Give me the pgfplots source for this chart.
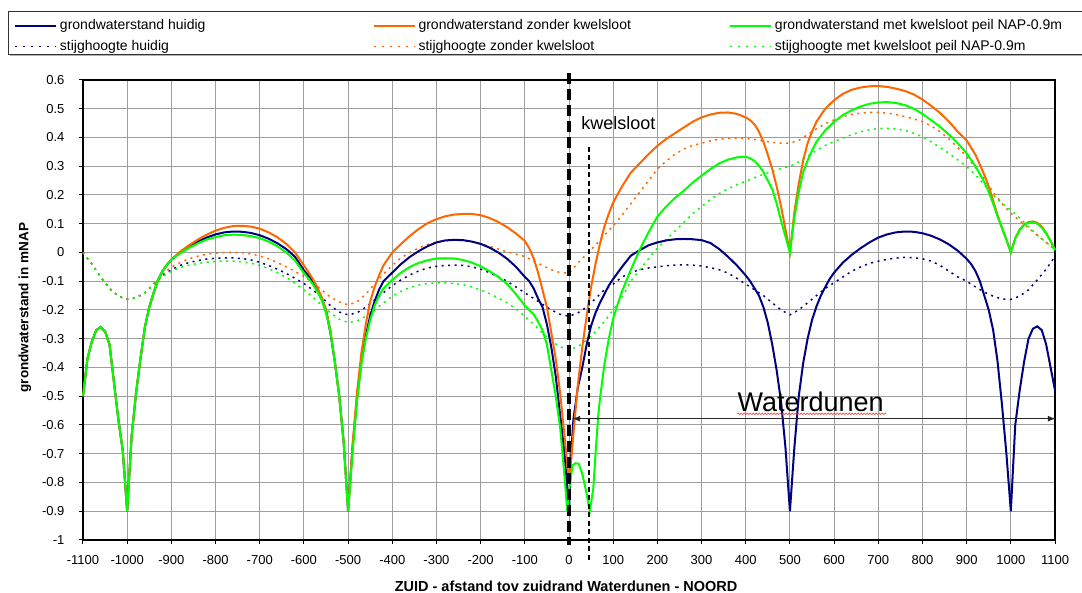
\documentclass[border=0pt]{standalone}
\usepackage{fontspec}
\setmainfont{Liberation Sans}
\usepackage{pgfplots}
\pgfplotsset{compat=1.18}
\usepackage{pgfplotstable}
\usetikzlibrary{arrows.meta,decorations.pathmorphing}

\definecolor{navyc}{HTML}{000080}
\definecolor{orangec}{HTML}{FF6600}
\definecolor{greenc}{HTML}{00FF00}

% grondwaterstand (solid)
\pgfplotstableread{
x y
-1100 -0.50
-1090 -0.37
-1080 -0.31
-1070 -0.27
-1060 -0.26
-1050 -0.275
-1040 -0.32
-1030 -0.45
-1020 -0.58
-1010 -0.69
-1000 -0.90
-990 -0.64
-980 -0.49
-970 -0.37
-960 -0.26
-950 -0.19
-940 -0.14
-930 -0.095
-920 -0.065
-910 -0.043
-900 -0.025
-880 0.0
-860 0.02
-840 0.038
-820 0.052
-800 0.063
-780 0.07
-760 0.073
-740 0.072
-720 0.068
-700 0.06
-680 0.048
-660 0.032
-640 0.012
-620 -0.015
-600 -0.062
-590 -0.08
-580 -0.10
-570 -0.125
-560 -0.158
-550 -0.20
-540 -0.28
-530 -0.38
-520 -0.50
-510 -0.66
-500 -0.90
-490 -0.68
-480 -0.51
-470 -0.38
-460 -0.29
-450 -0.22
-440 -0.17
-430 -0.13
-420 -0.10
-410 -0.085
-400 -0.07
-380 -0.04
-360 -0.015
-340 0.005
-320 0.022
-300 0.035
-280 0.042
-260 0.044
-240 0.043
-220 0.038
-200 0.03
-180 0.017
-160 0.0
-140 -0.022
-120 -0.05
-100 -0.085
-90 -0.10
-80 -0.125
-70 -0.16
-60 -0.19
-50 -0.25
-40 -0.33
-30 -0.43
-20 -0.566
-10 -0.70
0 -0.90
5 -0.70
10 -0.58
20 -0.47
30 -0.40
40 -0.32
50 -0.255
60 -0.21
70 -0.175
80 -0.145
90 -0.115
100 -0.092
120 -0.05
140 -0.011
160 0.008
180 0.025
200 0.035
220 0.042
240 0.046
260 0.047
280 0.046
300 0.043
320 0.033
340 0.012
360 -0.015
380 -0.045
400 -0.08
410 -0.10
420 -0.125
430 -0.15
440 -0.19
450 -0.245
460 -0.32
470 -0.41
480 -0.52
490 -0.68
500 -0.90
510 -0.68
520 -0.50
530 -0.385
540 -0.30
550 -0.235
560 -0.188
570 -0.15
580 -0.12
590 -0.092
600 -0.07
620 -0.035
640 -0.008
660 0.015
680 0.035
700 0.052
720 0.063
740 0.07
760 0.073
780 0.072
800 0.067
820 0.058
840 0.045
860 0.028
880 0.006
900 -0.022
910 -0.04
920 -0.065
930 -0.10
940 -0.15
950 -0.20
960 -0.27
970 -0.38
980 -0.53
990 -0.70
1000 -0.90
1010 -0.60
1020 -0.48
1030 -0.38
1040 -0.30
1050 -0.265
1060 -0.257
1070 -0.27
1080 -0.32
1090 -0.40
1100 -0.48
}\gwHuidig

\pgfplotstableread{
x y
-1100 -0.50
-1090 -0.37
-1080 -0.31
-1070 -0.27
-1060 -0.26
-1050 -0.275
-1040 -0.32
-1030 -0.45
-1020 -0.58
-1010 -0.69
-1000 -0.90
-990 -0.64
-980 -0.49
-970 -0.37
-960 -0.26
-950 -0.19
-940 -0.14
-930 -0.095
-920 -0.065
-910 -0.043
-900 -0.025
-880 0.003
-860 0.025
-840 0.045
-820 0.062
-800 0.076
-780 0.086
-760 0.092
-740 0.093
-720 0.09
-700 0.083
-680 0.07
-660 0.053
-640 0.03
-620 0.0
-600 -0.045
-590 -0.068
-580 -0.092
-570 -0.12
-560 -0.155
-550 -0.20
-540 -0.27
-530 -0.38
-520 -0.50
-510 -0.66
-500 -0.90
-490 -0.67
-480 -0.49
-470 -0.35
-460 -0.25
-450 -0.17
-440 -0.12
-430 -0.08
-420 -0.045
-400 0.0
-380 0.03
-360 0.058
-340 0.082
-320 0.102
-300 0.116
-280 0.126
-260 0.132
-240 0.134
-220 0.134
-200 0.13
-180 0.12
-160 0.106
-140 0.088
-120 0.066
-100 0.04
-90 0.015
-80 -0.02
-70 -0.07
-60 -0.13
-50 -0.19
-40 -0.28
-30 -0.37
-20 -0.49
-10 -0.64
0 -0.80
5 -0.72
10 -0.63
20 -0.46
30 -0.33
40 -0.22
50 -0.12
60 -0.04
70 0.03
80 0.09
90 0.135
100 0.174
120 0.23
140 0.278
160 0.31
180 0.342
200 0.371
220 0.395
240 0.415
260 0.435
280 0.455
300 0.47
320 0.48
340 0.486
360 0.487
380 0.482
400 0.47
410 0.46
420 0.445
430 0.42
440 0.385
450 0.34
460 0.29
470 0.23
480 0.16
490 0.08
500 0.0
510 0.14
520 0.24
530 0.32
540 0.38
550 0.42
560 0.455
580 0.50
600 0.53
620 0.552
640 0.566
660 0.574
680 0.578
700 0.579
720 0.576
740 0.57
760 0.562
780 0.55
800 0.532
820 0.51
840 0.485
860 0.455
880 0.42
900 0.39
920 0.34
940 0.27
950 0.23
960 0.18
970 0.13
980 0.085
990 0.045
1000 0.0
1010 0.05
1020 0.08
1030 0.097
1040 0.106
1050 0.108
1060 0.103
1070 0.09
1080 0.068
1090 0.04
1100 0.01
}\gwZonder

\pgfplotstableread{
x y
-1100 -0.50
-1090 -0.37
-1080 -0.31
-1070 -0.27
-1060 -0.26
-1050 -0.275
-1040 -0.32
-1030 -0.45
-1020 -0.58
-1010 -0.69
-1000 -0.90
-990 -0.64
-980 -0.49
-970 -0.37
-960 -0.26
-950 -0.19
-940 -0.14
-930 -0.095
-920 -0.065
-910 -0.043
-900 -0.025
-880 -0.003
-860 0.016
-840 0.032
-820 0.045
-800 0.054
-780 0.06
-760 0.062
-740 0.061
-720 0.057
-700 0.05
-680 0.038
-660 0.022
-640 0.0
-620 -0.028
-600 -0.072
-590 -0.09
-580 -0.11
-570 -0.135
-560 -0.165
-550 -0.21
-540 -0.275
-530 -0.38
-520 -0.50
-510 -0.66
-500 -0.90
-490 -0.70
-480 -0.52
-470 -0.39
-460 -0.30
-450 -0.235
-440 -0.185
-430 -0.15
-420 -0.125
-400 -0.095
-380 -0.07
-360 -0.05
-340 -0.036
-320 -0.027
-300 -0.021
-280 -0.02
-260 -0.021
-240 -0.026
-220 -0.035
-200 -0.048
-180 -0.065
-160 -0.085
-140 -0.11
-120 -0.145
-100 -0.185
-90 -0.20
-80 -0.215
-70 -0.24
-60 -0.27
-50 -0.32
-40 -0.41
-30 -0.50
-20 -0.61
-10 -0.78
-4 -0.90
0 -0.83
8 -0.74
15 -0.733
22 -0.735
30 -0.77
40 -0.84
47 -0.90
55 -0.82
60 -0.70
66 -0.57
70 -0.51
80 -0.39
90 -0.30
100 -0.23
110 -0.18
120 -0.135
140 -0.06
160 0.01
180 0.07
200 0.125
220 0.16
240 0.19
260 0.215
280 0.243
300 0.267
320 0.29
340 0.31
360 0.323
380 0.331
400 0.333
410 0.328
420 0.318
430 0.302
440 0.28
450 0.25
460 0.22
470 0.17
480 0.11
490 0.055
500 0.0
510 0.12
520 0.21
530 0.28
540 0.32
550 0.355
560 0.385
580 0.425
600 0.455
620 0.478
640 0.495
660 0.508
680 0.517
700 0.522
720 0.523
740 0.52
760 0.513
780 0.50
800 0.482
820 0.46
840 0.437
860 0.41
880 0.38
900 0.345
920 0.30
940 0.245
950 0.21
960 0.17
970 0.125
980 0.085
990 0.045
1000 0.0
1010 0.048
1020 0.078
1030 0.096
1040 0.104
1050 0.105
1060 0.10
1070 0.087
1080 0.066
1090 0.04
1100 0.008
}\gwMet

% stijghoogte (dotted)
\pgfplotstableread{
x y
-1100 0.0
-1080 -0.04
-1060 -0.085
-1040 -0.125
-1020 -0.152
-1000 -0.163
-980 -0.158
-960 -0.14
-940 -0.11
-920 -0.08
-900 -0.06
-880 -0.045
-860 -0.035
-840 -0.028
-820 -0.023
-800 -0.02
-780 -0.019
-760 -0.019
-740 -0.021
-720 -0.026
-700 -0.034
-680 -0.045
-660 -0.058
-640 -0.073
-620 -0.09
-600 -0.108
-580 -0.13
-560 -0.155
-540 -0.185
-520 -0.207
-500 -0.217
-480 -0.21
-460 -0.19
-440 -0.165
-420 -0.14
-400 -0.115
-380 -0.095
-360 -0.078
-340 -0.064
-320 -0.054
-300 -0.048
-280 -0.045
-260 -0.044
-240 -0.045
-220 -0.05
-200 -0.058
-180 -0.07
-160 -0.085
-140 -0.10
-120 -0.12
-100 -0.14
-80 -0.16
-60 -0.18
-40 -0.20
-20 -0.215
0 -0.222
20 -0.21
40 -0.19
60 -0.16
80 -0.13
100 -0.11
120 -0.085
140 -0.07
160 -0.06
180 -0.054
200 -0.05
220 -0.046
240 -0.044
260 -0.043
280 -0.044
300 -0.047
320 -0.053
340 -0.06
360 -0.072
380 -0.09
400 -0.11
420 -0.13
440 -0.15
460 -0.175
480 -0.20
500 -0.217
520 -0.20
540 -0.175
560 -0.15
580 -0.125
600 -0.105
620 -0.085
640 -0.065
660 -0.05
680 -0.038
700 -0.03
720 -0.024
740 -0.019
760 -0.017
780 -0.018
800 -0.022
820 -0.03
840 -0.045
860 -0.065
880 -0.085
900 -0.10
920 -0.12
940 -0.138
960 -0.152
980 -0.162
1000 -0.163
1020 -0.152
1040 -0.13
1060 -0.095
1080 -0.058
1100 -0.014
}\shHuidig

\pgfplotstableread{
x y
-1100 0.0
-1080 -0.04
-1060 -0.085
-1040 -0.125
-1020 -0.152
-1000 -0.163
-980 -0.158
-960 -0.14
-940 -0.108
-920 -0.075
-900 -0.05
-880 -0.035
-860 -0.022
-840 -0.013
-820 -0.006
-800 -0.002
-780 0.0
-760 0.0
-740 -0.001
-720 -0.005
-700 -0.012
-680 -0.022
-660 -0.035
-640 -0.05
-620 -0.066
-600 -0.083
-580 -0.105
-560 -0.13
-540 -0.155
-520 -0.172
-500 -0.182
-480 -0.172
-460 -0.145
-440 -0.11
-420 -0.075
-400 -0.045
-380 -0.018
-360 0.0
-340 0.016
-320 0.028
-300 0.036
-280 0.041
-260 0.043
-240 0.042
-220 0.037
-200 0.03
-180 0.022
-160 0.012
-140 0.002
-120 -0.006
-100 -0.014
-80 -0.03
-60 -0.045
-40 -0.06
-20 -0.07
0 -0.072
10 -0.055
20 -0.037
40 -0.005
60 0.025
80 0.06
100 0.093
120 0.13
140 0.17
160 0.21
180 0.25
200 0.29
220 0.318
240 0.342
260 0.36
280 0.372
300 0.38
320 0.388
340 0.394
360 0.397
380 0.398
400 0.397
420 0.393
440 0.388
460 0.383
480 0.38
500 0.38
520 0.39
540 0.41
560 0.43
580 0.448
600 0.461
620 0.472
640 0.48
660 0.485
680 0.487
700 0.487
720 0.485
740 0.48
760 0.473
780 0.465
800 0.455
820 0.44
840 0.42
860 0.395
880 0.365
900 0.334
920 0.295
940 0.255
960 0.21
980 0.17
1000 0.137
1020 0.11
1040 0.085
1060 0.06
1080 0.035
1100 0.01
}\shZonder

\pgfplotstableread{
x y
-1100 0.0
-1080 -0.04
-1060 -0.085
-1040 -0.125
-1020 -0.152
-1000 -0.163
-980 -0.158
-960 -0.14
-940 -0.112
-920 -0.083
-900 -0.065
-880 -0.052
-860 -0.044
-840 -0.038
-820 -0.034
-800 -0.031
-780 -0.03
-760 -0.03
-740 -0.032
-720 -0.037
-700 -0.045
-680 -0.056
-660 -0.07
-640 -0.087
-620 -0.107
-600 -0.13
-580 -0.155
-560 -0.183
-540 -0.21
-520 -0.232
-500 -0.244
-480 -0.238
-460 -0.222
-440 -0.20
-420 -0.175
-400 -0.152
-380 -0.135
-360 -0.122
-340 -0.113
-320 -0.108
-300 -0.106
-280 -0.106
-260 -0.108
-240 -0.112
-220 -0.12
-200 -0.13
-180 -0.143
-160 -0.158
-140 -0.175
-120 -0.196
-100 -0.222
-80 -0.25
-60 -0.28
-40 -0.308
-20 -0.328
0 -0.338
20 -0.328
40 -0.305
60 -0.275
80 -0.24
100 -0.20
120 -0.155
140 -0.10
160 -0.06
180 -0.022
200 0.015
220 0.045
240 0.075
260 0.105
280 0.135
300 0.16
320 0.185
340 0.205
360 0.222
380 0.235
400 0.248
420 0.26
440 0.272
460 0.282
480 0.292
500 0.30
520 0.315
540 0.335
560 0.355
580 0.372
600 0.386
620 0.398
640 0.41
660 0.42
680 0.427
700 0.431
720 0.432
740 0.43
760 0.425
780 0.415
800 0.403
820 0.385
840 0.365
860 0.345
880 0.322
900 0.299
920 0.27
940 0.235
960 0.20
980 0.17
1000 0.148
1020 0.12
1040 0.09
1060 0.06
1080 0.035
1100 0.01
}\shMet

\begin{document}
\begin{tikzpicture}[x=1bp,y=1bp]
\path[use as bounding box] (-83,-53) rectangle (999,540);

% legend frame
\draw[gray!60, line width=2bp] (-73,484.5) -- (1010,484.5);
\draw[black!80, line width=0.8bp, fill=white] (-75,529) rectangle (1010,486);

\begin{axis}[
  at={(0,0)}, anchor=south west,
  width=972bp, height=460bp, scale only axis,
  clip=false,
  xmin=-1100, xmax=1100, ymin=-1, ymax=0.6,
  xtick={-1100,-1000,-900,-800,-700,-600,-500,-400,-300,-200,-100,0,100,200,300,400,500,600,700,800,900,1000,1100},
  ytick={-1,-0.9,-0.8,-0.7,-0.6,-0.5,-0.4,-0.3,-0.2,-0.1,0,0.1,0.2,0.3,0.4,0.5,0.6},
  grid=major,
  grid style={line width=1bp, black!38},
  axis line style={line width=1.6bp, black},
  tick style={line width=1bp, black},
  tick align=outside, major tick length=4bp, tick pos=left,
  /pgf/number format/assume math mode=true,
  /pgf/number format/1000 sep={},
  ticklabel style={font=\fontsize{13bp}{15bp}\selectfont},
  yticklabel style={xshift=-11bp},
  xticklabel style={yshift=-8bp},
  xlabel={ZUID - afstand tov zuidrand Waterdunen - NOORD},
  ylabel={grondwaterstand in mNAP},
  every axis x label/.style={at={(axis description cs:0.497,-0.1015)}, anchor=center,
    font=\bfseries\fontsize{14.5bp}{16bp}\selectfont},
  every axis y label/.style={at={(axis description cs:-0.0597,0.5054)}, anchor=center, rotate=90,
    font=\bfseries\fontsize{13.5bp}{16bp}\selectfont},
  legend columns=3,
  legend cell align=left,
  legend image code/.code={\draw[#1] (0bp,0bp) -- (41bp,0bp);},
  legend style={at={(axis description cs:-0.071,1.139)}, anchor=north west,
    draw=none, fill=none, inner sep=0pt, outer sep=0pt,
    font=\fontsize{14bp}{16bp}\selectfont, row sep=2bp,
    /tikz/column 2/.style={column sep=164bp},
    /tikz/column 4/.style={column sep=95bp},
    nodes={inner sep=3bp, text height=10bp, text depth=3bp}},
]
\addlegendimage{navyc, line width=2bp}
\addlegendentry{grondwaterstand huidig}
\addlegendimage{orangec, line width=2bp}
\addlegendentry{grondwaterstand zonder kwelsloot}
\addlegendimage{greenc, line width=2bp}
\addlegendentry{grondwaterstand met kwelsloot peil NAP-0.9m}
\addlegendimage{navyc, line width=1.5bp, dash pattern=on 2bp off 6bp}
\addlegendentry{stijghoogte huidig}
\addlegendimage{orangec, line width=1.5bp, dash pattern=on 2bp off 6bp}
\addlegendentry{stijghoogte zonder kwelsloot}
\addlegendimage{greenc, line width=1.5bp, dash pattern=on 2bp off 6bp}
\addlegendentry{stijghoogte met kwelsloot peil NAP-0.9m}

\addplot[forget plot, navyc, line width=1.5bp, dash pattern=on 2bp off 4.5bp] table {\shHuidig};
\addplot[forget plot, orangec, line width=1.5bp, dash pattern=on 2bp off 4.5bp] table {\shZonder};
\addplot[forget plot, greenc, line width=1.5bp, dash pattern=on 2bp off 4.5bp] table {\shMet};
\addplot[forget plot, navyc, line width=2bp] table {\gwHuidig};
\addplot[forget plot, orangec, line width=2bp] table {\gwZonder};
\addplot[forget plot, greenc, line width=2bp] table {\gwMet};

% kwelsloot markers
\draw[black, line width=3.5bp, dash pattern=on 11bp off 5bp] (axis cs:0,0.625) -- (axis cs:0,-1.017);
\draw[black, line width=1.3bp, dash pattern=on 5bp off 3.5bp] (axis cs:45,0.368) -- (axis cs:45,-1.07);
\node[anchor=base west, inner sep=0pt, font=\fontsize{18bp}{20bp}\selectfont] at (axis cs:27.6,0.429) {kwelsloot};

% Waterdunen
\draw[black!85, line width=1.4bp, {Latex[length=8bp,width=6bp]}-{Latex[length=8bp,width=6bp]}] (axis cs:7,-0.578) -- (axis cs:1102,-0.578);
\node[anchor=base west, inner sep=0pt, font=\fontsize{27bp}{30bp}\selectfont] at (axis cs:381,-0.552) {Waterdunen};
\draw[red!80, line width=0.6bp, decorate, decoration={snake, amplitude=0.8bp, segment length=3bp}] (axis cs:381,-0.561) -- (axis cs:718,-0.561);
\end{axis}
\end{tikzpicture}
\end{document}
